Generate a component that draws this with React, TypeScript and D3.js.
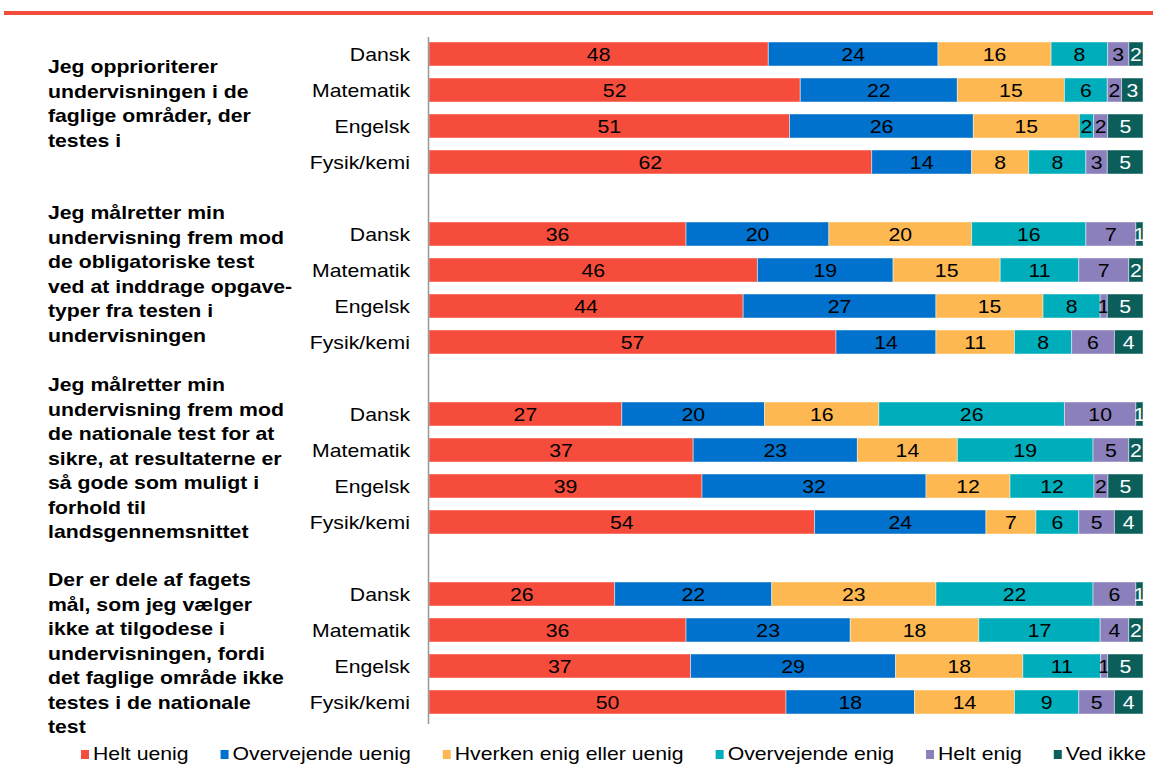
import React, { useEffect, useRef } from "react";
import * as d3 from "d3";

const SERIES = ["Helt uenig", "Overvejende uenig", "Hverken enig eller uenig", "Overvejende enig", "Helt enig", "Ved ikke"];
const COLORS = ["#F64C3C", "#0071CC", "#FDB851", "#00AEBB", "#8B80BC", "#0C5E5B"];
const LABEL_COLORS = ["#000", "#000", "#000", "#000", "#000", "#fff"];
const SUBJECTS = ["Dansk", "Matematik", "Engelsk", "Fysik/kemi"];

const STATEMENTS = [
  ["Jeg opprioriterer", "undervisningen i de", "faglige områder, der", "testes i"],
  ["Jeg målretter min", "undervisning frem mod", "de obligatoriske test", "ved at inddrage opgave-", "typer fra testen i", "undervisningen"],
  ["Jeg målretter min", "undervisning frem mod", "de nationale test for at", "sikre, at resultaterne er", "så gode som muligt i", "forhold til", "landsgennemsnittet"],
  ["Der er dele af fagets", "mål, som jeg vælger", "ikke at tilgodese i", "undervisningen, fordi", "det faglige område ikke", "testes i de nationale", "test"],
];

const G1 = [[48, 24, 16, 8, 3, 2], [52, 22, 15, 6, 2, 3], [51, 26, 15, 2, 2, 5], [62, 14, 8, 8, 3, 5]];
const G2 = [[36, 20, 20, 16, 7, 1], [46, 19, 15, 11, 7, 2], [44, 27, 15, 8, 1, 5], [57, 14, 11, 8, 6, 4]];
const G3 = [[27, 20, 16, 26, 10, 1], [37, 23, 14, 19, 5, 2], [39, 32, 12, 12, 2, 5], [54, 24, 7, 6, 5, 4]];
const G4 = [[26, 22, 23, 22, 6, 1], [36, 23, 18, 17, 4, 2], [37, 29, 18, 11, 1, 5], [50, 18, 14, 9, 5, 4]];
const GROUPS = [G1, G2, G3, G4];

// layout
const W = 1153, H = 765;
const SX = 1.18;
const FONT = "'Liberation Sans', Arial, sans-serif";
const FS = 18;
const STATEMENT_FIRST_LINE = [73, 219, 391, 586];
const LINE_H = 24.5;

export default function App() {
  const ref = useRef<SVGSVGElement>(null);

  useEffect(() => {
    const svg = d3.select(ref.current);
    svg.selectAll("*").remove();

    // top red rule
    svg.append("rect").attr("x", 4).attr("y", 11).attr("width", W - 4).attr("height", 4).attr("fill", "#F44B3A");

    // rows: 19 slots
    const slots: string[] = [];
    GROUPS.forEach((g, gi) => {
      g.forEach((_, si) => slots.push(`${gi}-${si}`));
      if (gi < GROUPS.length - 1) slots.push(`gap-${gi}`);
    });
    const y = d3.scaleBand().domain(slots).range([36, 720]).paddingInner(1 / 3).paddingOuter(1 / 6);
    const x = d3.scaleLinear().domain([0, 1]).range([429, 1143]);

    const text = (g: any, tx: number, ty: number, s: string, anchor: string, opts: any = {}) =>
      g.append("text")
        .attr("transform", `translate(${tx},${ty}) scale(${SX},1)`)
        .attr("text-anchor", anchor)
        .attr("font-family", FONT)
        .attr("font-size", FS)
        .attr("font-weight", opts.bold ? "bold" : "normal")
        .attr("fill", opts.fill || "#000")
        .text(s);

    const stack = d3.stack<number[]>().keys(SERIES.map((_, i) => String(i)) as any)
      .value((d: any, k: any) => d[+k])
      .offset(d3.stackOffsetExpand);

    GROUPS.forEach((g, gi) => {
      const layers = stack(g as any);
      g.forEach((row, si) => {
        const key = `${gi}-${si}`;
        const y0 = y(key)!;
        const bh = y.bandwidth();
        const cy = y0 + bh / 2;
        layers.forEach((layer, li) => {
          const [a, b] = layer[si];
          svg.append("rect")
            .attr("x", x(a)).attr("y", y0)
            .attr("width", x(b) - x(a)).attr("height", bh)
            .attr("fill", COLORS[li])
            .attr("stroke", "rgba(255,255,255,0.45)").attr("stroke-width", 1);
          text(svg, (x(a) + x(b)) / 2, cy + 6.5, String(row[li]), "middle", { fill: LABEL_COLORS[li] });
        });
        text(svg, 410, cy + 6.5, SUBJECTS[si], "end");
      });
      STATEMENTS[gi].forEach((line, li) => {
        text(svg, 48, STATEMENT_FIRST_LINE[gi] + li * LINE_H, line, "start", { bold: true });
      });
    });

    // axis line
    svg.append("line").attr("x1", 428.5).attr("x2", 428.5).attr("y1", 37).attr("y2", 724)
      .attr("stroke", "#999").attr("stroke-width", 1.5);

    // legend
    const lg = svg.append("g");
    let lx = 93;
    SERIES.forEach((s, i) => {
      lg.append("rect").attr("x", lx - 12).attr("y", 750).attr("width", 8).attr("height", 9).attr("fill", COLORS[i]);
      const t = text(lg, lx, 760, s, "start");
      const w = (t.node() as SVGTextElement).getComputedTextLength() * SX;
      lx = lx + w + 44;
    });
  }, []);

  return (
    <svg ref={ref} width={W} height={H} style={{ position: "absolute", left: 0, top: 0, background: "#fff" }} />
  );
}
